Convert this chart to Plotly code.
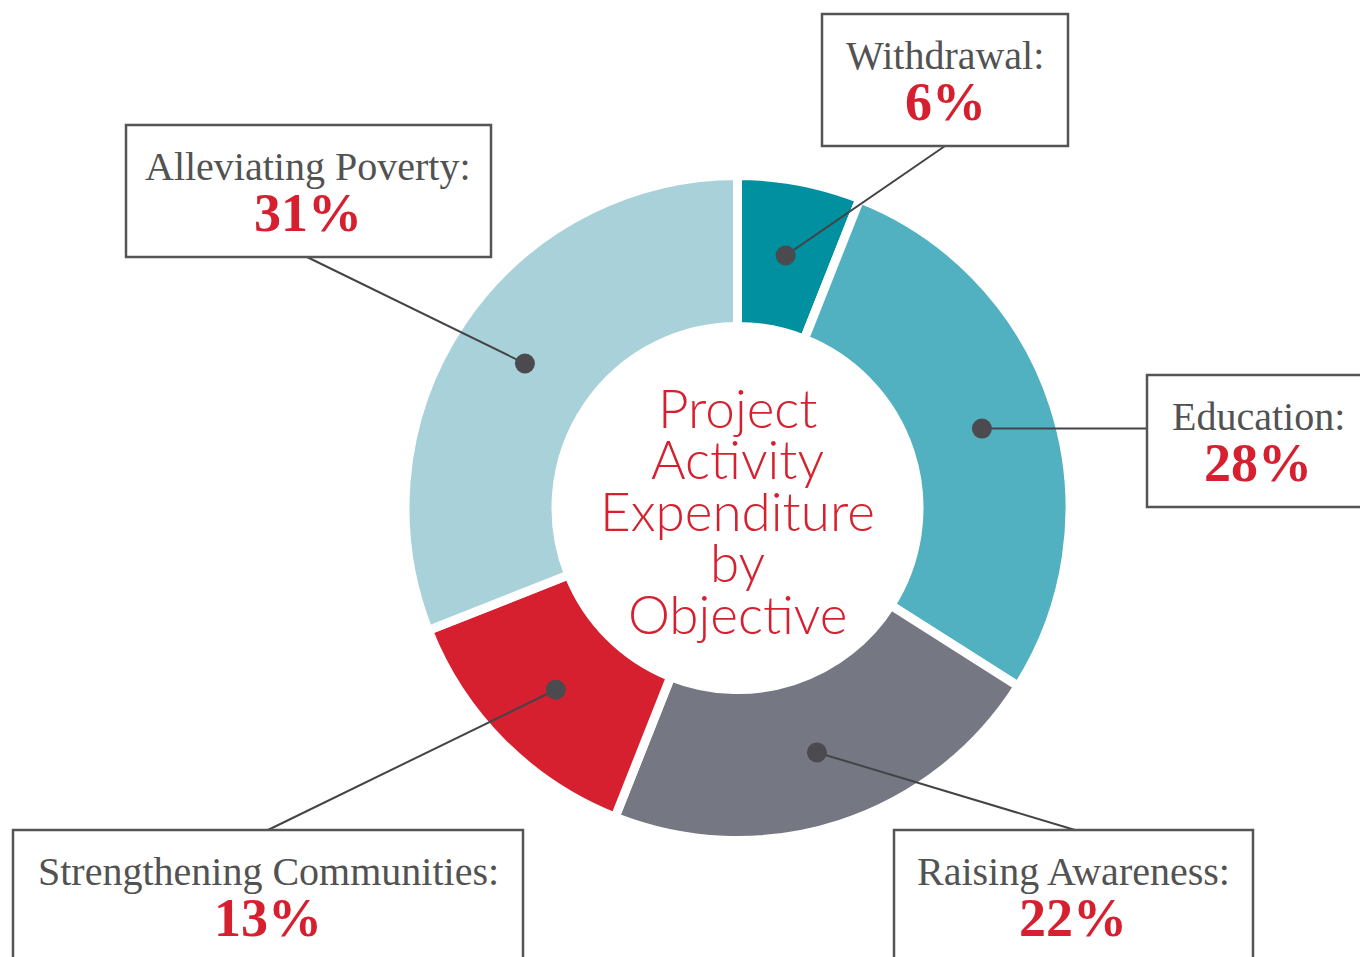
import math
import plotly.graph_objects as go

# ---- data ----
categories = ["Withdrawal", "Education", "Raising Awareness", "Strengthening Communities", "Alleviating Poverty"]
values = [6, 28, 22, 13, 31]
colors = ["#00909f", "#52b1c0", "#757883", "#d62030", "#a8d1da"]
center_lines = ["Project", "Activity", "Expenditure", "by", "Objective"]

# ---- layout constants (pixels) ----
W, H = 1360, 957
CX, CY = 737.5, 508
R_OUT, R_IN = 328, 186
GAP = 9
R_PLOT = R_OUT + GAP / 2
HOLE = (R_IN - GAP / 2) / R_PLOT

# label boxes: x0, y0, x1, y1, text centre x, leader anchor (x, y)
boxes = {
    "Withdrawal": dict(x0=822, y0=14, x1=1068, y1=146, tx=945, ax=945, ay=146),
    "Education": dict(x0=1147, y0=375, x1=1366, y1=507, tx=1258, ax=1147, ay=None),
    "Raising Awareness": dict(x0=894, y0=830, x1=1253, y1=966, tx=1073, ax=1075, ay=830),
    "Strengthening Communities": dict(x0=13, y0=830, x1=523, y1=966, tx=268, ax=268, ay=830),
    "Alleviating Poverty": dict(x0=126, y0=125, x1=491, y1=257, tx=308, ax=307, ay=257),
}

fig = go.Figure()
fig.add_trace(go.Pie(
    labels=categories, values=values, sort=False, direction="clockwise", rotation=0,
    hole=HOLE, marker=dict(colors=colors, line=dict(color="white", width=GAP)),
    textinfo="none", hoverinfo="label+percent", showlegend=False,
    domain=dict(x=[(CX - R_PLOT) / W, (CX + R_PLOT) / W],
                y=[(H - CY - R_PLOT) / H, (H - CY + R_PLOT) / H]),
))

shapes = []
annotations = []
total = sum(values)
cum = 0
r_dot = (R_OUT + R_IN) / 2
for cat, v in zip(categories, values):
    mid = (cum + v / 2) / total
    cum += v
    th = 2 * math.pi * mid
    dx = CX + r_dot * math.sin(th)
    dy = CY - r_dot * math.cos(th)
    b = boxes[cat]
    ay = b["ay"] if b["ay"] is not None else dy
    shapes.append(dict(type="line", xref="x", yref="y", x0=dx, y0=dy, x1=b["ax"], y1=ay,
                       line=dict(color="#444448", width=2), layer="above"))
    shapes.append(dict(type="circle", xref="x", yref="y", x0=dx - 10, y0=dy - 10, x1=dx + 10, y1=dy + 10,
                       fillcolor="#4a4a4f", line=dict(width=0), layer="above"))
    shapes.append(dict(type="rect", xref="x", yref="y", x0=b["x0"], y0=b["y0"], x1=b["x1"], y1=b["y1"],
                       fillcolor="white", line=dict(color="#555555", width=2.5), layer="above"))
    annotations.append(dict(xref="x", yref="y", x=b["tx"], y=b["y0"] + 41, text=cat + ":",
                            showarrow=False, xanchor="center", yanchor="middle",
                            font=dict(family="Liberation Serif", size=40, color="#525252")))
    annotations.append(dict(xref="x", yref="y", x=b["tx"], y=b["y0"] + 88, text=f"<b>{v}%</b>",
                            showarrow=False, xanchor="center", yanchor="middle",
                            font=dict(family="Liberation Serif", size=54, color="#d6202f")))

for i, line in enumerate(center_lines):
    annotations.append(dict(xref="x", yref="y", x=CX, y=407 + 51.5 * i, text=line,
                            showarrow=False, xanchor="center", yanchor="middle",
                            font=dict(family="Lato", size=53, weight=300, color="#d6202f")))

fig.update_layout(
    width=W, height=H, margin=dict(l=0, r=0, t=0, b=0),
    paper_bgcolor="white", plot_bgcolor="rgba(0,0,0,0)",
    xaxis=dict(range=[0, W], visible=False, fixedrange=True),
    yaxis=dict(range=[H, 0], visible=False, fixedrange=True),
    shapes=shapes, annotations=annotations,
)

fig.write_html("out.html", config={"displayModeBar": False},
               post_script="document.body.style.margin='0';document.body.style.overflow='hidden';")
